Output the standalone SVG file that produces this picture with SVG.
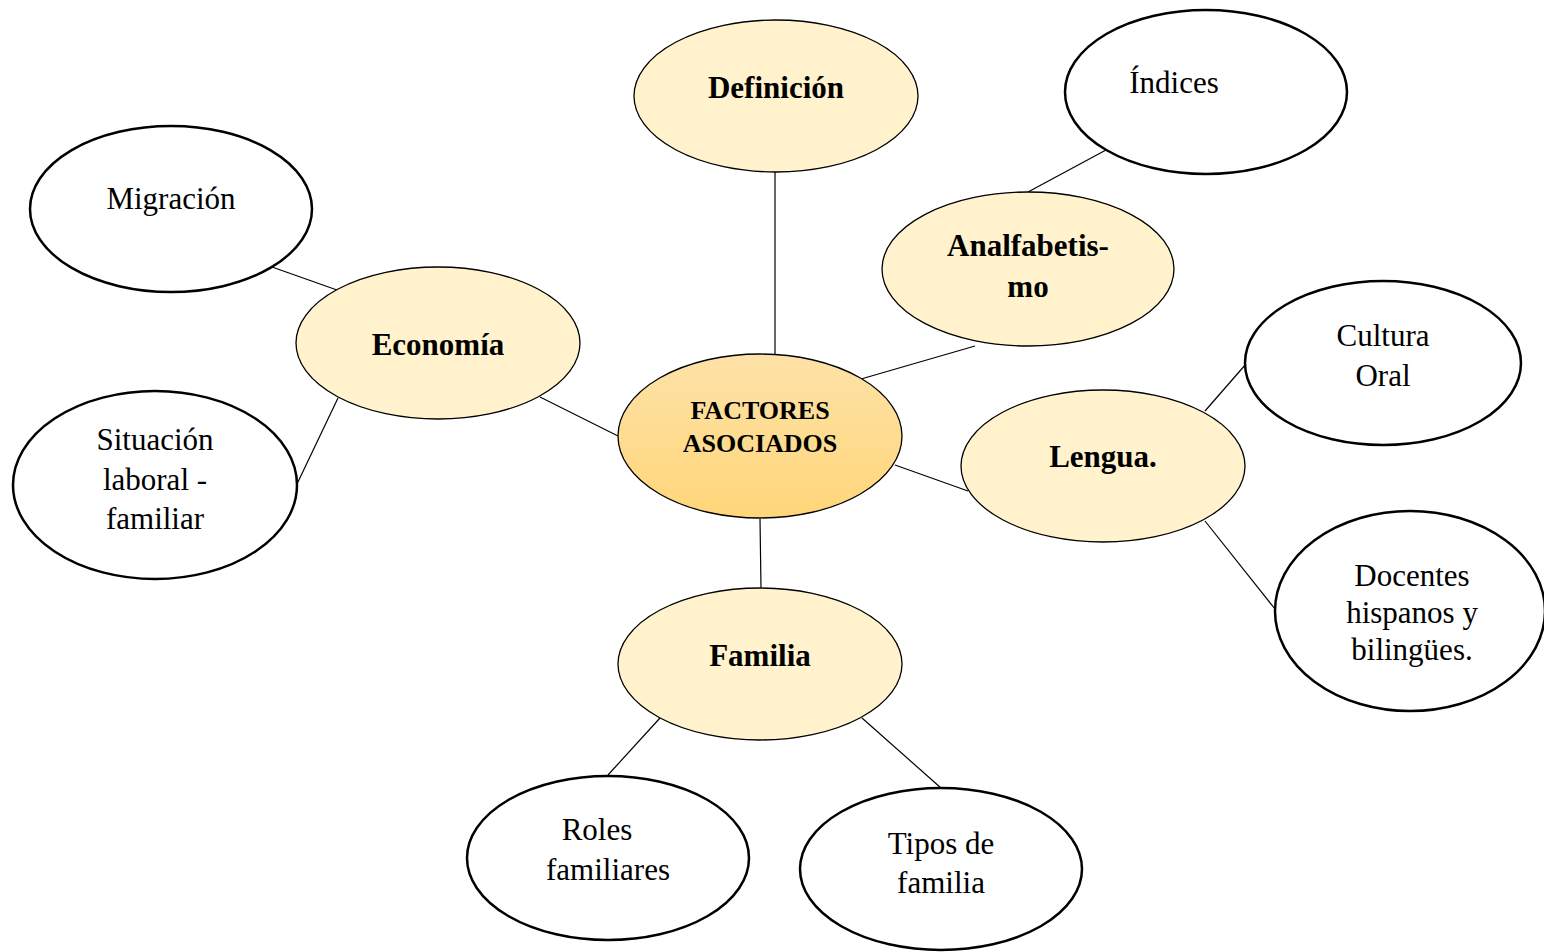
<svg xmlns="http://www.w3.org/2000/svg" width="1544" height="952" viewBox="0 0 1544 952">
<defs>
<linearGradient id="cg" x1="0" y1="0" x2="0" y2="1">
<stop offset="0" stop-color="#fde2a8"/>
<stop offset="1" stop-color="#ffd679"/>
</linearGradient>
<style>
.c{stroke:#000;stroke-width:1.2;fill:none}
.y{fill:#fff2cc;stroke:#000;stroke-width:1.3}
.w{fill:#fff;stroke:#000;stroke-width:2.5}
.m{fill:url(#cg);stroke:#000;stroke-width:1.3}
text{font-family:"Liberation Serif","Times New Roman",serif;font-size:31px;text-anchor:middle;fill:#000}
.b{font-weight:bold}
.s{font-size:26px;font-weight:bold}
</style>
</defs>
<rect width="1544" height="952" fill="#fff"/>
<g id="connectors">
<line class="c" x1="775" y1="172" x2="775" y2="354"/>
<line class="c" x1="1106" y1="150" x2="1028" y2="192"/>
<line class="c" x1="975" y1="346" x2="861" y2="379"/>
<line class="c" x1="272" y1="267" x2="337" y2="290"/>
<line class="c" x1="338" y1="398" x2="297" y2="484"/>
<line class="c" x1="540" y1="397" x2="618" y2="436"/>
<line class="c" x1="895" y1="465" x2="968" y2="491"/>
<line class="c" x1="1205" y1="411" x2="1246" y2="364"/>
<line class="c" x1="1205" y1="521" x2="1275" y2="609"/>
<line class="c" x1="760" y1="519" x2="761" y2="588"/>
<line class="c" x1="660" y1="718" x2="608" y2="775"/>
<line class="c" x1="862" y1="718" x2="941" y2="788"/>
</g>
<g id="definicion"><ellipse class="y" cx="776" cy="96" rx="142" ry="76"/><text class="b" x="776" y="98">Definición</text></g>
<g id="indices"><ellipse class="w" cx="1206" cy="92" rx="141" ry="82"/><text x="1174" y="93">Índices</text></g>
<g id="analfabetismo"><ellipse class="y" cx="1028" cy="269" rx="146" ry="77"/><text class="b" x="1028" y="256">Analfabetis-</text><text class="b" x="1028" y="297">mo</text></g>
<g id="migracion"><ellipse class="w" cx="171" cy="209" rx="141" ry="83"/><text x="171" y="209">Migración</text></g>
<g id="economia"><ellipse class="y" cx="438" cy="343" rx="142" ry="76"/><text class="b" x="438" y="355">Economía</text></g>
<g id="situacion"><ellipse class="w" cx="155" cy="485" rx="142" ry="94"/><text x="155" y="450">Situación</text><text x="155" y="490">laboral -</text><text x="155" y="529">familiar</text></g>
<g id="factores"><ellipse class="m" cx="760" cy="436" rx="142" ry="82"/><text class="s" x="760" y="419">FACTORES</text><text class="s" x="760" y="452">ASOCIADOS</text></g>
<g id="lengua"><ellipse class="y" cx="1103" cy="466" rx="142" ry="76"/><text class="b" x="1103" y="467">Lengua.</text></g>
<g id="cultura"><ellipse class="w" cx="1383" cy="363" rx="138" ry="82"/><text x="1383" y="346">Cultura</text><text x="1383" y="386">Oral</text></g>
<g id="docentes"><ellipse class="w" cx="1410" cy="611" rx="135" ry="100"/><text x="1412" y="586">Docentes</text><text x="1412" y="623">hispanos y</text><text x="1412" y="660">bilingües.</text></g>
<g id="familia"><ellipse class="y" cx="760" cy="664" rx="142" ry="76"/><text class="b" x="760" y="666">Familia</text></g>
<g id="roles"><ellipse class="w" cx="608" cy="858" rx="141" ry="82"/><text x="597" y="840">Roles</text><text x="608" y="880">familiares</text></g>
<g id="tipos"><ellipse class="w" cx="941" cy="869" rx="141" ry="81"/><text x="941" y="854">Tipos de</text><text x="941" y="893">familia</text></g>
</svg>
